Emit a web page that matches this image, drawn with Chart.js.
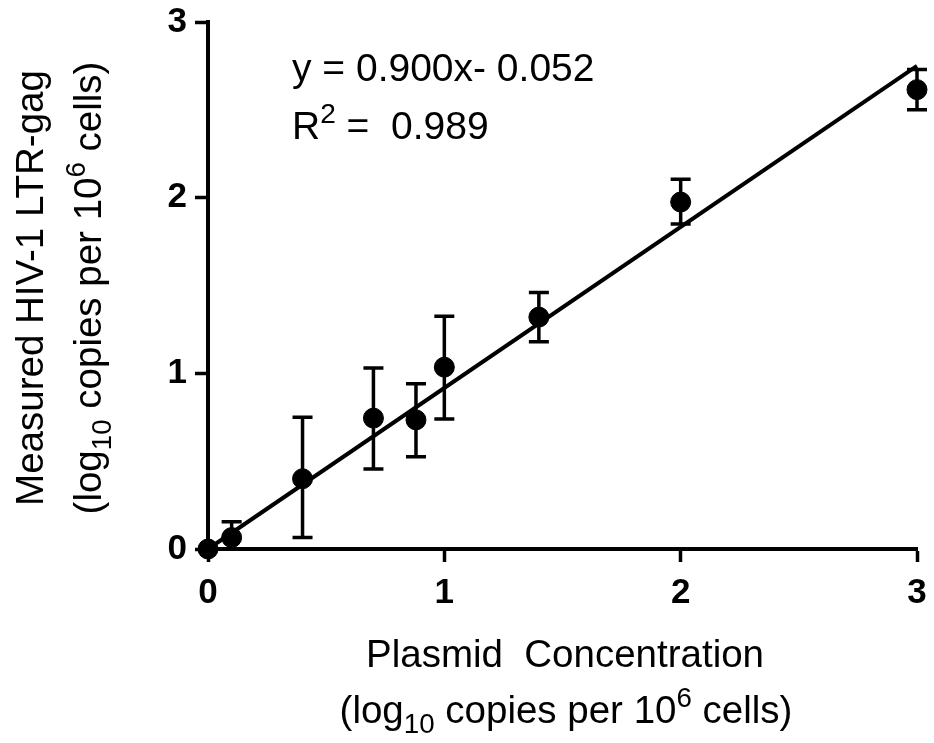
<!DOCTYPE html>
<html>
<head>
<meta charset="utf-8">
<script src="https://cdn.jsdelivr.net/npm/chart.js@4/dist/chart.umd.min.js"></script>
<style>
  html, body { margin: 0; padding: 0; background: #fff; }
  #wrap { width: 934px; height: 743px; }
</style>
</head>
<body>
<div id="wrap"><canvas id="chart" width="934" height="743"></canvas></div>
<script>
(function () {

// ---- data --------------------------------------------------------------------

var plasmidLog = [0, 0.1, 0.4, 0.7, 0.88, 1, 1.4, 2, 3];
var measuredLog = [0, 0.065, 0.40, 0.745, 0.735, 1.035, 1.32, 1.975, 2.615];
var errTop = [0, 0.155, 0.75, 1.03, 0.94, 1.325, 1.46, 2.105, 2.73];
var errBottom = [0, 0.0, 0.065, 0.455, 0.525, 0.74, 1.18, 1.85, 2.5];

var fitX = [0, 3];
var fitY = [0.0, 2.75];

var xTicks = [0, 1, 2, 3];
var yTicks = [0, 1, 2, 3];

var eqLine = 'y = 0.900x- 0.052';
var r2Value = '0.989';

// -------------------------------------------------------------------------------

var FONT = '"Liberation Sans", Arial, Helvetica, sans-serif';
var TITLE_SIZE = 38.5;
var NOTE_SIZE = 39;
var SMALL = 0.72;

function pts(xs, ys) {
    var out = [];
    for (var i = 0; i < xs.length; i++) out.push({ x: xs[i], y: ys[i] });
    return out;
}

// draws a line of text made of pieces, some sub / superscripted
function richText(ctx, parts, size, cx, baseY) {
    var total = 0, i, p;
    for (i = 0; i < parts.length; i++) {
        p = parts[i];
        ctx.font = (p.sub || p.sup ? size * SMALL : size) + 'px ' + FONT;
        p.w = ctx.measureText(p.t).width;
        total += p.w;
    }
    var x = cx - total / 2;
    ctx.textAlign = 'left';
    ctx.textBaseline = 'alphabetic';
    for (i = 0; i < parts.length; i++) {
        p = parts[i];
        ctx.font = (p.sub || p.sup ? size * SMALL : size) + 'px ' + FONT;
        var dy = p.sub ? size * 0.26 : (p.sup ? -size * 0.42 : 0);
        ctx.fillText(p.t, x, baseY + dy);
        x += p.w;
    }
}

var unitsParts = function () {
    return [
        { t: '(log' }, { t: '10', sub: true }, { t: ' copies per 10' },
        { t: '6', sup: true }, { t: ' cells)' }
    ];
};

var errorBars = {
    id: 'errorBars',
    afterDatasetsDraw: function (chart) {
        var ctx = chart.ctx;
        var xs = chart.scales.x, ys = chart.scales.y;
        ctx.save();
        ctx.strokeStyle = '#000';
        ctx.lineWidth = 3.5;
        for (var i = 0; i < plasmidLog.length; i++) {
            if (errTop[i] === errBottom[i]) continue;
            var px = xs.getPixelForValue(plasmidLog[i]);
            var t = ys.getPixelForValue(errTop[i]);
            var b = ys.getPixelForValue(errBottom[i]);
            ctx.beginPath();
            ctx.moveTo(px, t); ctx.lineTo(px, b);
            ctx.moveTo(px - 10, t); ctx.lineTo(px + 10, t);
            ctx.moveTo(px - 10, b); ctx.lineTo(px + 10, b);
            ctx.stroke();
        }
        ctx.restore();
    }
};

var texts = {
    id: 'texts',
    afterDraw: function (chart) {
        var ctx = chart.ctx;
        ctx.save();
        ctx.fillStyle = '#000';

        // x axis title
        richText(ctx, [{ t: 'Plasmid  Concentration' }], TITLE_SIZE, 565, 667);
        richText(ctx, unitsParts(), TITLE_SIZE, 566, 723);

        // y axis title
        ctx.save();
        ctx.translate(0, 288);
        ctx.rotate(-Math.PI / 2);
        richText(ctx, [{ t: 'Measured HIV-1 LTR-gag' }], TITLE_SIZE, 0, 43);
        richText(ctx, unitsParts(), TITLE_SIZE, 0, 101);
        ctx.restore();

        // regression annotation
        ctx.font = NOTE_SIZE + 'px ' + FONT;
        ctx.textAlign = 'left';
        ctx.textBaseline = 'alphabetic';
        ctx.fillText(eqLine, 292, 81);
        var x = 292;
        ctx.fillText('R', x, 139);
        x += ctx.measureText('R').width;
        ctx.font = (NOTE_SIZE * SMALL) + 'px ' + FONT;
        ctx.fillText('2', x, 139 - NOTE_SIZE * 0.42);
        x += ctx.measureText('2').width;
        ctx.font = NOTE_SIZE + 'px ' + FONT;
        ctx.fillText(' =  ' + r2Value, x, 139);
        ctx.restore();
    }
};

var tickFont = { family: FONT, size: 35, weight: 'bold' };

new Chart(document.getElementById('chart').getContext('2d'), {
    type: 'scatter',
    data: {
        datasets: [{
            data: pts(plasmidLog, measuredLog),
            backgroundColor: '#000',
            borderColor: '#000',
            pointRadius: 10,
            pointHoverRadius: 10,
            clip: false
        }, {
            type: 'line',
            data: pts(fitX, fitY),
            borderColor: '#000',
            borderWidth: 4,
            pointRadius: 0,
            fill: false,
            clip: false
        }]
    },
    options: {
        responsive: false,
        animation: false,
        events: [],
        layout: { padding: { left: 0, top: 22, right: 17, bottom: 0 } },
        plugins: { legend: { display: false }, tooltip: { enabled: false } },
        scales: {
            x: {
                type: 'linear', min: 0, max: 3,
                afterFit: function (s) {
                    s.height = 194;
                    s.paddingLeft = 0; s.paddingRight = 0;
                },
                afterBuildTicks: function (s) { s.ticks = xTicks.map(function (v) { return { value: v }; }); },
                border: { display: true, width: 4, color: '#000' },
                grid: { drawOnChartArea: false, drawTicks: true, tickLength: 13, tickWidth: 3.5, tickColor: '#000' },
                ticks: { color: '#000', font: tickFont, padding: 10, maxRotation: 0 }
            },
            y: {
                type: 'linear', min: 0, max: 3,
                afterFit: function (s) {
                    s.width = 208;
                    s.paddingTop = 0; s.paddingBottom = 0;
                },
                afterBuildTicks: function (s) { s.ticks = yTicks.map(function (v) { return { value: v }; }); },
                border: { display: true, width: 4, color: '#000' },
                grid: { drawOnChartArea: false, drawTicks: true, tickLength: 13, tickWidth: 3.5, tickColor: '#000' },
                ticks: { color: '#000', font: tickFont, padding: 8 }
            }
        }
    },
    plugins: [errorBars, texts]
});

})();
</script>
</body>
</html>
